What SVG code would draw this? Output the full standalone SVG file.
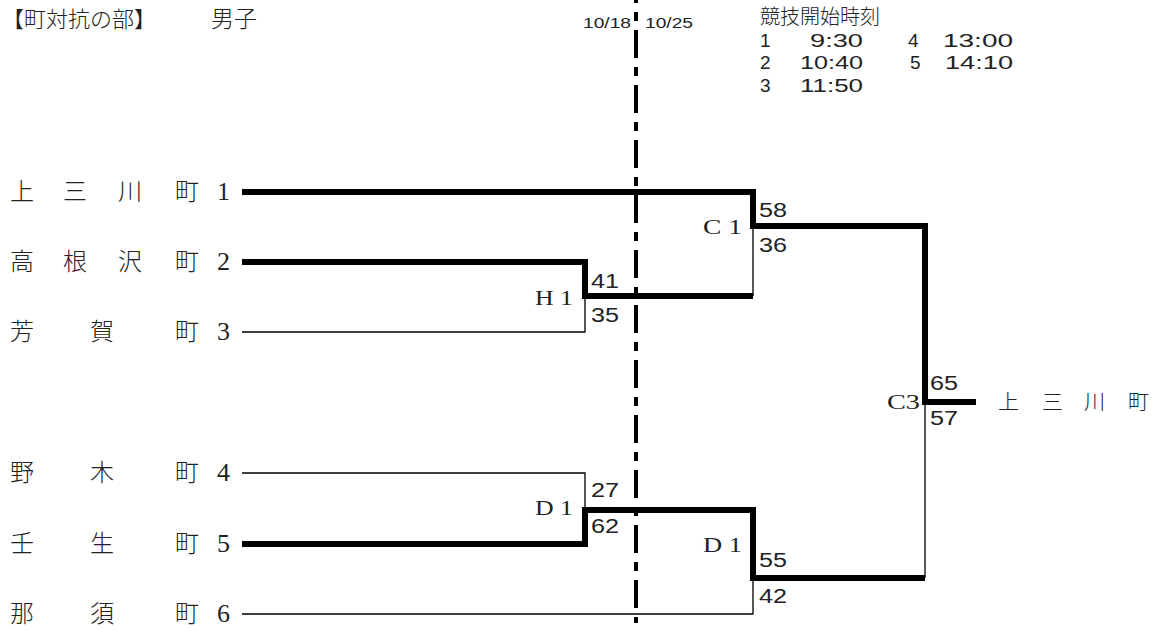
<svg xmlns="http://www.w3.org/2000/svg" width="1164" height="630" viewBox="0 0 1164 630">
<style>
.bg{fill:#fff}
.jp{font-family:"Noto Sans CJK JP","Noto Sans CJK SC",sans-serif;fill:#222;font-weight:300}
.tn{font-size:24px}
.num{font-family:"Liberation Serif",serif;font-size:26px;fill:#222}
.lab{font-family:"Liberation Serif",serif;font-size:20px;fill:#222}
.sc{font-family:"Liberation Sans",Arial,sans-serif;font-size:20px;fill:#222}
.tm{font-family:"Liberation Sans",Arial,sans-serif;font-size:19px;fill:#222}
.dt{font-family:"Liberation Sans",Arial,sans-serif;font-size:14px;fill:#222}
.thick{fill:none;stroke:#000;stroke-width:6;stroke-linejoin:miter;stroke-linecap:butt}
.thin{fill:none;stroke:#000;stroke-width:1.3}
.div{stroke:#000;stroke-width:4;stroke-dasharray:28 9 9 9}
</style>
<rect class="bg" x="0" y="0" width="1164" height="630"/>
<g id="header">
<text class="jp" x="2" y="27" font-size="22" textLength="154" lengthAdjust="spacingAndGlyphs">【町対抗の部】</text>
<text class="jp" x="211" y="27" font-size="23">男子</text>
</g>
<g id="dates">
<text class="dt" x="583" y="28" textLength="48" lengthAdjust="spacingAndGlyphs">10/18</text>
<text class="dt" x="645" y="28" textLength="48" lengthAdjust="spacingAndGlyphs">10/25</text>
</g>
<g id="schedule">
<text class="jp" x="760" y="24" font-size="20">競技開始時刻</text>
<text class="tm" x="760" y="47">1</text>
<text class="tm" x="810" y="47" textLength="53" lengthAdjust="spacingAndGlyphs">9:30</text>
<text class="tm" x="908" y="47">4</text>
<text class="tm" x="943" y="47" textLength="70" lengthAdjust="spacingAndGlyphs">13:00</text>
<text class="tm" x="760" y="69">2</text>
<text class="tm" x="800" y="69" textLength="63" lengthAdjust="spacingAndGlyphs">10:40</text>
<text class="tm" x="910" y="69">5</text>
<text class="tm" x="945" y="69" textLength="68" lengthAdjust="spacingAndGlyphs">14:10</text>
<text class="tm" x="760" y="92">3</text>
<text class="tm" x="800" y="92" textLength="63" lengthAdjust="spacingAndGlyphs">11:50</text>
</g>
<line id="divider" class="div" x1="636" y1="-25" x2="636" y2="623"/>
<g id="connectors">
<path class="thin" d="M242 332 H585 V296"/>
<path class="thin" d="M753 226 V296"/>
<path class="thin" d="M242 473 H585 V510"/>
<path class="thin" d="M242 614 H753 V578"/>
<path class="thin" d="M925 402 V578"/>
<path class="thick" d="M242 192 H753 V226 H925 V402 H976"/>
<path class="thick" d="M242 262 H585 V296 H753"/>
<path class="thick" d="M242 544 H585 V510 H753 V578 H925"/>
</g>
<g id="team1">
<text class="jp tn" x="10" y="200">上</text><text class="jp tn" x="63" y="200">三</text><text class="jp tn" x="118" y="200">川</text><text class="jp tn" x="175" y="200">町</text><text class="num" x="217" y="200">1</text>
</g>
<g id="team2">
<text class="jp tn" x="10" y="270">高</text><text class="jp tn" x="63" y="270">根</text><text class="jp tn" x="118" y="270">沢</text><text class="jp tn" x="175" y="270">町</text><text class="num" x="217" y="270">2</text>
</g>
<g id="team3">
<text class="jp tn" x="10" y="340">芳</text><text class="jp tn" x="90" y="340">賀</text><text class="jp tn" x="175" y="340">町</text><text class="num" x="217" y="340">3</text>
</g>
<g id="team4">
<text class="jp tn" x="10" y="481">野</text><text class="jp tn" x="90" y="481">木</text><text class="jp tn" x="175" y="481">町</text><text class="num" x="217" y="481">4</text>
</g>
<g id="team5">
<text class="jp tn" x="10" y="552">壬</text><text class="jp tn" x="90" y="552">生</text><text class="jp tn" x="175" y="552">町</text><text class="num" x="217" y="552">5</text>
</g>
<g id="team6">
<text class="jp tn" x="10" y="622">那</text><text class="jp tn" x="90" y="622">須</text><text class="jp tn" x="175" y="622">町</text><text class="num" x="217" y="622">6</text>
</g>
<g id="matchH1">
<text class="lab" x="535" y="305" textLength="38" lengthAdjust="spacingAndGlyphs">H 1</text>
<text class="sc" x="591" y="288" textLength="28" lengthAdjust="spacingAndGlyphs">41</text>
<text class="sc" x="591" y="322" textLength="28" lengthAdjust="spacingAndGlyphs">35</text>
</g>
<g id="matchC1">
<text class="lab" x="703" y="234" textLength="39" lengthAdjust="spacingAndGlyphs">C 1</text>
<text class="sc" x="759" y="217" textLength="28" lengthAdjust="spacingAndGlyphs">58</text>
<text class="sc" x="759" y="252" textLength="28" lengthAdjust="spacingAndGlyphs">36</text>
</g>
<g id="matchD1a">
<text class="lab" x="535" y="515" textLength="38" lengthAdjust="spacingAndGlyphs">D 1</text>
<text class="sc" x="591" y="497" textLength="28" lengthAdjust="spacingAndGlyphs">27</text>
<text class="sc" x="591" y="533" textLength="28" lengthAdjust="spacingAndGlyphs">62</text>
</g>
<g id="matchD1b">
<text class="lab" x="703" y="552" textLength="39" lengthAdjust="spacingAndGlyphs">D 1</text>
<text class="sc" x="759" y="567" textLength="28" lengthAdjust="spacingAndGlyphs">55</text>
<text class="sc" x="759" y="603" textLength="28" lengthAdjust="spacingAndGlyphs">42</text>
</g>
<g id="matchC3">
<text class="lab" x="887" y="409" textLength="33" lengthAdjust="spacingAndGlyphs">C3</text>
<text class="sc" x="930" y="390" textLength="28" lengthAdjust="spacingAndGlyphs">65</text>
<text class="sc" x="930" y="425" textLength="28" lengthAdjust="spacingAndGlyphs">57</text>
</g>
<g id="winner">
<text class="jp" x="998" y="409" font-size="21">上</text><text class="jp" x="1042" y="409" font-size="21">三</text><text class="jp" x="1084" y="409" font-size="21">川</text><text class="jp" x="1128" y="409" font-size="21">町</text>
</g>
</svg>
